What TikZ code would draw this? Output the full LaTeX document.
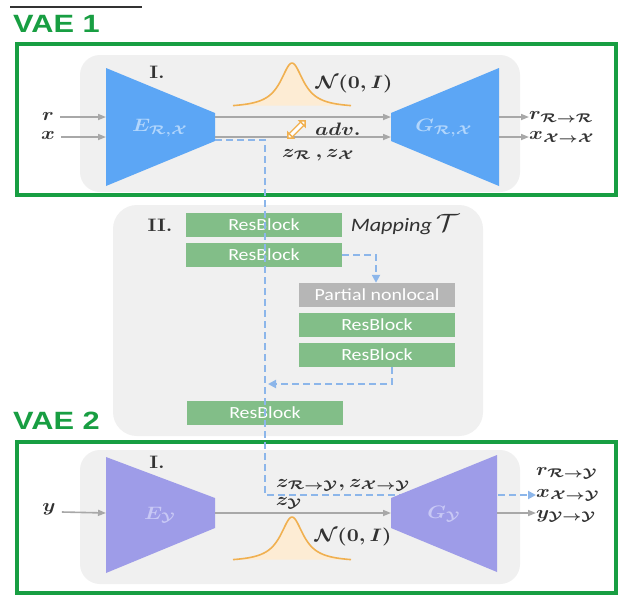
\documentclass[tikz,border=0pt]{standalone}
\usepackage{fontspec}
\setsansfont{Liberation Sans}
\newfontfamily\blockfont{Carlito}
\usetikzlibrary{arrows.meta}

\definecolor{vaegreen}{RGB}{24,158,66}
\definecolor{panelgray}{RGB}{240,240,240}
\definecolor{encblue}{RGB}{92,166,245}
\definecolor{enclabel}{RGB}{178,214,252}
\definecolor{encpurple}{RGB}{158,156,232}
\definecolor{purplabel}{RGB}{200,200,245}
\definecolor{resgreen}{RGB}{130,190,136}
\definecolor{nlgray}{RGB}{182,182,182}
\definecolor{flowgray}{RGB}{168,168,168}
\definecolor{skipblue}{RGB}{140,182,234}
\definecolor{gaussorange}{RGB}{240,176,80}
\definecolor{gaussfill}{RGB}{253,236,212}
\definecolor{labelgray}{RGB}{50,50,50}

% math labels are set at 10pt and enlarged, a little wider than tall
\newcommand{\mlab}[1]{\scalebox{2.1}[1.8]{\boldmath$#1$}}
% wide text
\newcommand{\wide}[1]{\scalebox{1.17}[1]{#1}}

\tikzset{
  vaetitle/.style={anchor=west, text=vaegreen, font=\sffamily\bfseries\fontsize{25}{25}\selectfont, inner sep=0pt},
  vaebox/.style={draw=vaegreen, line width=4pt},
  panel/.style={fill=panelgray, rounded corners=20pt},
  block/.style={fill=resgreen, text=white, minimum width=156pt, minimum height=24pt, inner sep=0pt,
                font=\blockfont\fontsize{17}{17}\selectfont},
  nlblock/.style={block, fill=nlgray},
  flow/.style={draw=flowgray, line width=1.6pt, -{Triangle[length=8pt,width=6pt]}},
  skip/.style={draw=skipblue, line width=2.2pt, dash pattern=on 7pt off 4pt},
  skiptip/.style={skip, -{Triangle[length=8pt,width=8pt]}},
  mlabel/.style={text=labelgray, inner sep=0pt},
  numeral/.style={text=labelgray, inner sep=0pt, font=\bfseries\fontsize{18}{18}\selectfont},
  gauss/.style={draw=gaussorange, line width=1.6pt, fill=gaussfill},
  netlabel/.style={inner sep=0pt},
}

\begin{document}
\begin{tikzpicture}[x=1pt, y=-1pt]
\useasboundingbox (0,0) rectangle (619,600);
\fill[white] (0,0) rectangle (619,600);

% rule left over at the top
\draw[line width=1.2pt, black!80] (10,7) -- (142,7);

% ---------- panels ----------
\fill[panel] (80,55) rectangle (520,192);
\fill[panel, rounded corners=24pt] (113,205) rectangle (483,436);
\fill[panel] (80,450) rectangle (520,584);

% ---------- VAE titles and frames ----------
\node[vaetitle] (t1) at (13,24) {\scalebox{1.23}[1]{VAE 1}};
\node[vaetitle] (t2) at (13,421) {\scalebox{1.23}[1]{VAE 2}};
\draw[vaebox] (17,44) rectangle (616,195);
\draw[vaebox] (17,442) rectangle (616,593);

% ---------- VAE 1 ----------
\node[numeral] (n1) at (157,72) {\wide{I.}};
% encoder / generator shapes
\coordinate (E1a) at (106,68);  \coordinate (E1b) at (215,113);
\coordinate (E1c) at (215,141); \coordinate (E1d) at (106,186);
\fill[encblue] (E1a) -- (E1b) -- (E1c) -- (E1d) -- cycle;
\node[netlabel, text=enclabel] (E1) at (160,128) {\mlab{E_{\mathcal{R},\mathcal{X}}}};
\coordinate (G1a) at (391,113); \coordinate (G1b) at (499,68);
\coordinate (G1c) at (499,186); \coordinate (G1d) at (391,141);
\fill[encblue] (G1a) -- (G1b) -- (G1c) -- (G1d) -- cycle;
\node[netlabel, text=enclabel] (G1) at (444,128) {\mlab{G_{\mathcal{R},\mathcal{X}}}};

% prior
\draw[gauss] plot[domain=233:351, samples=100] (\x, {108 - 45/(1+((\x-292)/14)^2)});
\node[mlabel] (p1) at (354,84) {\mlab{\mathcal{N}(0,I)}};

% inputs
\node[mlabel] (r1) at (48,116) {\mlab{r}};
\node[mlabel] (x1) at (48,135) {\mlab{x}};
\coordinate (E1r) at (106,117); \coordinate (E1x) at (106,137);
\draw[flow] (r1.east) ++(6,1) -- (E1r);
\draw[flow] (x1.east) ++(6,2) -- (E1x);

% latent paths
\coordinate (E1u) at (215,117); \coordinate (G1u) at (391,117);
\coordinate (E1l) at (215,137); \coordinate (G1l) at (391,137);
\draw[flow] (E1u) -- (G1u);
\draw[flow] (E1l) -- (G1l);
\coordinate (adv1) at (287,139); \coordinate (adv2) at (306,120);
\draw[draw=gaussorange, double=white, double distance=3pt, line width=1.5pt,
      {Triangle[length=6pt,width=11pt,open,fill=white]}-{Triangle[length=6pt,width=11pt,open,fill=white]}]
      (adv1) -- (adv2);
\node[mlabel, anchor=west] (adv) at (315,129) {\mlab{adv.}};
\node[mlabel, anchor=west] (z1) at (282,155) {\mlab{z_{\mathcal{R}}\,, z_{\mathcal{X}}}};

% outputs
\coordinate (G1o1) at (499,117); \coordinate (G1o2) at (499,137);
\node[mlabel, anchor=west] (o11) at (529,117) {\mlab{r_{\mathcal{R}\to\mathcal{R}}}};
\node[mlabel, anchor=west] (o12) at (529,137) {\mlab{x_{\mathcal{X}\to\mathcal{X}}}};
\draw[flow] (G1o1) -- (o11.west);
\draw[flow] (G1o2) -- (o12.west);

% ---------- mapping T ----------
\node[numeral] (n2) at (160,225) {\wide{II.}};
\node[text=labelgray, inner sep=0pt, font=\blockfont\itshape\fontsize{19}{19}\selectfont] (map) at (405,225) {\wide{Mapping\,\scalebox{1.45}{$\mathcal{T}$}}};
\node[block] (rb1) at (264,225) {\wide{ResBlock}};
\node[block] (rb2) at (264,255) {\wide{ResBlock}};
\node[nlblock] (pn) at (377,295) {\wide{Partial nonlocal}};
\node[block] (rb3) at (377,325) {\wide{ResBlock}};
\node[block] (rb4) at (377,355) {\wide{ResBlock}};
\node[block] (rb5) at (265,413) {\wide{ResBlock}};

% skip / data path (dashed)
\coordinate (s0) at (215,140);
\coordinate (s1) at (265,140);
\coordinate (s2) at (265,495);
\coordinate (s3) at (536,495);
\draw[skiptip] (s0) -- (s1) -- (s2) -- (s3);
\draw[skiptip] (rb2.east) -- (376,255) -- (pn.north -| 376,0);
\draw[skiptip] (rb4.south -| 392,0) -- (392,384) -- (268,384);

% ---------- VAE 2 ----------
\node[numeral] (n3) at (157,462) {\wide{I.}};
\coordinate (E2a) at (106,457); \coordinate (E2b) at (215,498);
\coordinate (E2c) at (215,528); \coordinate (E2d) at (106,573);
\fill[encpurple] (E2a) -- (E2b) -- (E2c) -- (E2d) -- cycle;
\node[netlabel, text=purplabel] (E2) at (160,515) {\mlab{E_{\mathcal{Y}}}};
\coordinate (G2a) at (391,498); \coordinate (G2b) at (497,455);
\coordinate (G2c) at (497,572); \coordinate (G2d) at (391,528);
\fill[encpurple] (G2a) -- (G2b) -- (G2c) -- (G2d) -- cycle;
\node[netlabel, text=purplabel] (G2) at (444,514) {\mlab{G_{\mathcal{Y}}}};

\draw[gauss] plot[domain=233:351, samples=100] (\x, {562 - 45/(1+((\x-292)/14)^2)});
\node[mlabel] (p2) at (353,537) {\mlab{\mathcal{N}(0,I)}};

\node[mlabel] (y2) at (49,509) {\mlab{y}};
\coordinate (E2y) at (106,513);
\draw[flow] (y2.east) ++(6,3) -- (E2y);
\coordinate (E2u) at (215,513); \coordinate (G2u) at (391,513);
\draw[flow] (E2u) -- (G2u);
\node[mlabel] (zy) at (289,503) {\mlab{z_{\mathcal{Y}}}};
\node[mlabel, anchor=west] (zmap) at (276,485) {\mlab{z_{\mathcal{R}\to\mathcal{Y}}, z_{\mathcal{X}\to\mathcal{Y}}}};

\coordinate (G2o) at (497,513);
\node[mlabel, anchor=west] (o21) at (536,473) {\mlab{r_{\mathcal{R}\to\mathcal{Y}}}};
\node[mlabel, anchor=west] (o22) at (536,495) {\mlab{x_{\mathcal{X}\to\mathcal{Y}}}};
\node[mlabel, anchor=west] (o23) at (536,516) {\mlab{y_{\mathcal{Y}\to\mathcal{Y}}}};
\draw[flow] (G2o) -- (o23.west |- G2o);
\end{tikzpicture}
\end{document}
